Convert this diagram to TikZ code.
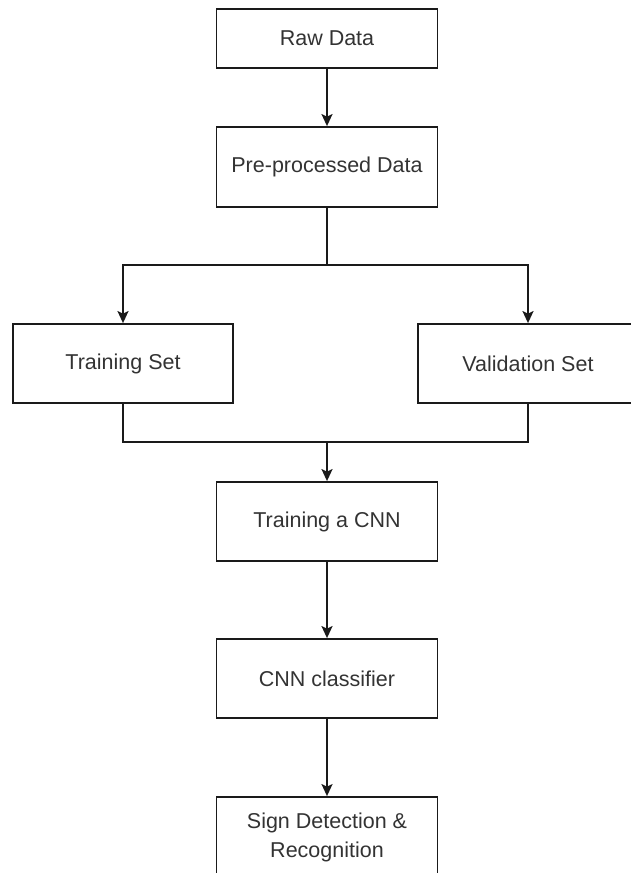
\documentclass[tikz,border=0pt]{standalone}
\usepackage{fontspec}
\setmainfont{Liberation Sans}
\usetikzlibrary{arrows.meta}

\begin{document}
\begin{tikzpicture}[x=1pt,y=-1pt]

% Colori
\definecolor{lineDark}{HTML}{1A1A1A}
\definecolor{textGray}{HTML}{333333}

\tikzset{
  blocco/.style={draw=lineDark, line width=1.8pt, rectangle, minimum width=221pt,
    minimum height=80pt, inner sep=0pt, text=textGray, align=center,
    font=\fontsize{21.5}{29}\selectfont},
  linea/.style={draw=lineDark, line width=1.8pt},
  freccia/.style={linea, -{Stealth[length=12pt,width=11pt,inset=2.5pt]}}
}

% Area del disegno
\clip (0,0) rectangle (631,873);

% Blocchi
\node[blocco, minimum height=59pt] (raw) at (327,38.5) {Raw Data};
\node[blocco] (pre) at (327,167) {Pre-processed Data};
\node[blocco, minimum width=220pt, minimum height=79pt] (train) at (123,363.5) {Training Set};
\node[blocco, minimum width=220pt, minimum height=79pt] (valid) at (528,363.5) {Validation Set};
\node[blocco, minimum height=79pt] (cnn) at (327,521.5) {Training a CNN};
\node[blocco, minimum height=79pt] (clf) at (327,678.5) {CNN classifier};
\node[blocco] (sign) at (327,837) {Sign Detection \&\\Recognition};

% Punti di diramazione
\coordinate (split) at (327,265);
\coordinate (merge) at (327,442);

% Collegamenti
\draw[freccia] (raw) -- (pre);
\draw[linea] (pre) -- (split);
\draw[freccia] (split) -| (train);
\draw[freccia] (split) -| (valid);
\draw[linea] (train) |- (merge);
\draw[linea] (valid) |- (merge);
\draw[freccia] (merge) -- (cnn);
\draw[freccia] (cnn) -- (clf);
\draw[freccia] (clf) -- (sign);

\end{tikzpicture}
\end{document}
